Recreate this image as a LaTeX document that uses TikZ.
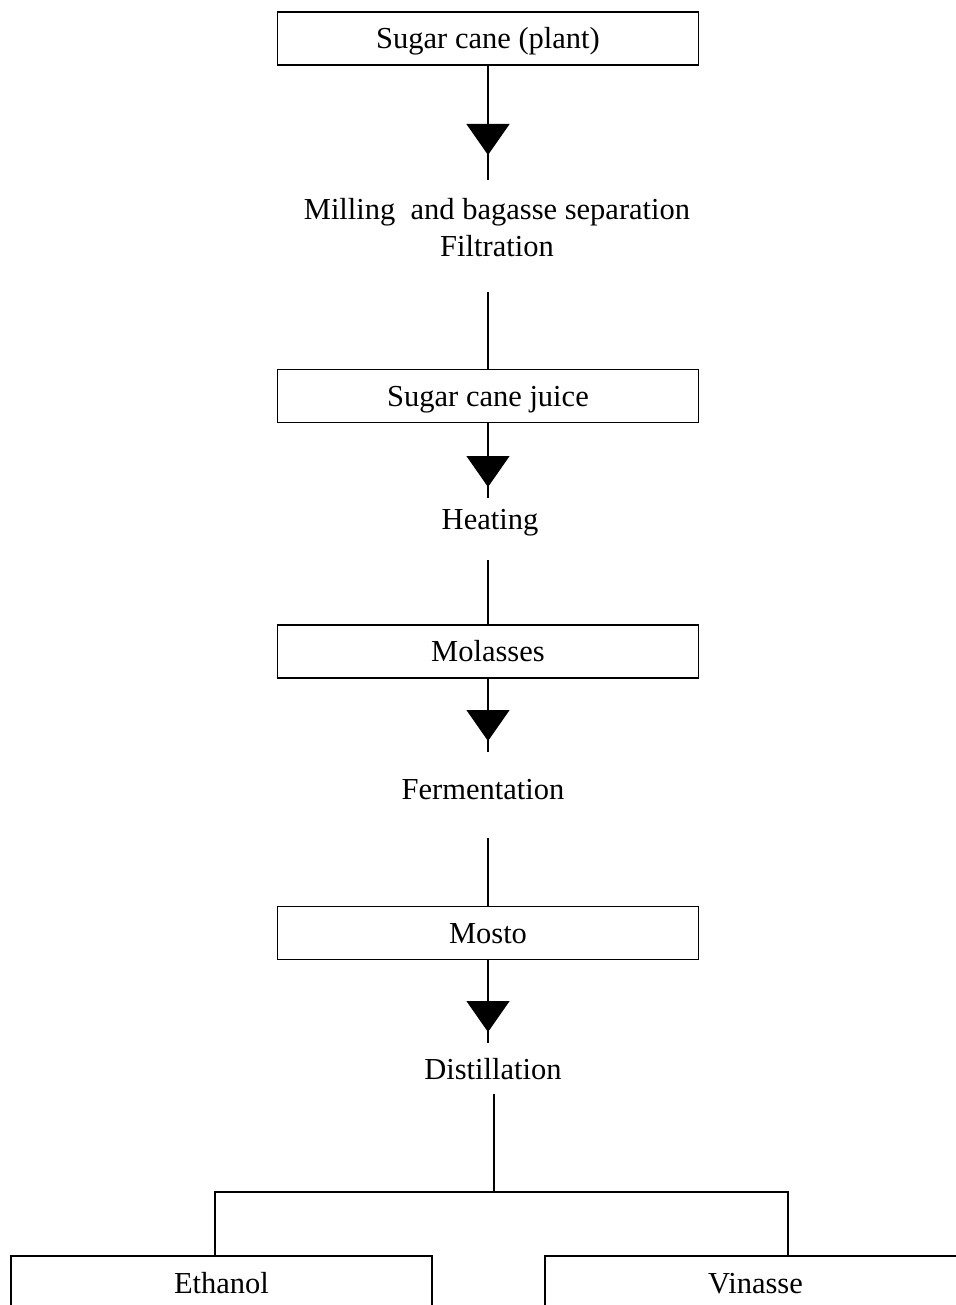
\documentclass[tikz,border=0pt]{standalone}
\usepackage{fontspec}
\setmainfont{Liberation Serif}
\usetikzlibrary{arrows.meta,positioning,decorations.markings}

\begin{document}
\begin{tikzpicture}[
    x=1pt, y=1pt,
    font=\fontsize{30.5}{37}\selectfont,
    block/.style={rectangle, draw, line width=1.4pt, minimum width=421pt, minimum height=53pt, inner sep=0pt, text height=27pt, text depth=6pt},
    process/.style={align=center, inner sep=0pt},
    flow/.style={line width=1.3pt, decoration={markings, mark=at position #1 with {\arrow{Triangle[width=43pt,length=31pt]}}}, postaction={decorate}},
    link/.style={line width=1.3pt}
]
\useasboundingbox (0,0) rectangle (955,-1305);

% Nodes
\node [block] (plant) at (488,-38.5) {Sugar cane (plant)};
\node [process] (milling) at (497,-228) {Milling~ and bagasse separation\\Filtration};
\node [block, below=303pt of plant] (juice) {Sugar cane juice};
\node [process] (heating) at (490,-523) {Heating};
\node [block, below=201pt of juice] (molasses) {Molasses};
\node [process] (fermentation) at (483,-790) {Fermentation};
\node [block, below=227pt of molasses] (mosto) {Mosto};
\node [process] (distillation) at (493,-1069) {Distillation};
\node [block] (ethanol) at (221.5,-1282.5) {Ethanol};
\node [block] (vinasse) at (755.5,-1282.5) {Vinasse};

% Free ends
\coordinate (m1) at (488,-180);
\coordinate (m2) at (488,-292);
\coordinate (h1) at (488,-498);
\coordinate (h2) at (488,-560);
\coordinate (f1) at (488,-752);
\coordinate (f2) at (488,-838);
\coordinate (d1) at (488,-1043);
\coordinate (d2) at (494,-1094);
\coordinate (split) at (494,-1192);
\coordinate (lft) at (215,-1192);
\coordinate (rgt) at (788,-1192);

% Edges
\draw [flow=-25pt] (plant.south) -- (m1);
\draw [link] (m2) -- (juice.north);
\draw [flow=-11pt] (juice.south) -- (h1);
\draw [link] (h2) -- (molasses.north);
\draw [flow=-11pt] (molasses.south) -- (f1);
\draw [link] (f2) -- (mosto.north);
\draw [flow=-11pt] (mosto.south) -- (d1);
\draw [link] (d2) -- (split);
\draw [link] (lft |- ethanol.north) -- (lft) -- (rgt) -- (rgt |- vinasse.north);

\end{tikzpicture}
\end{document}
